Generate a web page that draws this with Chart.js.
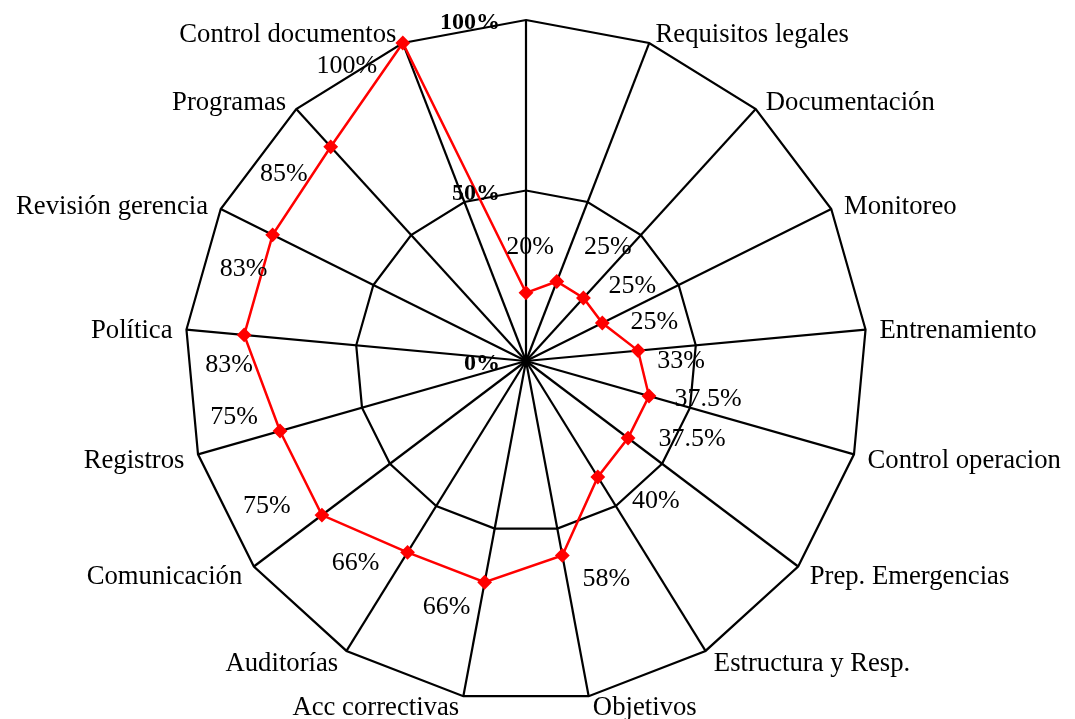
<!DOCTYPE html>
<html>
<head>
<meta charset="utf-8">
<script src="https://cdn.jsdelivr.net/npm/chart.js@4/dist/chart.umd.min.js"></script>
<style>
  html, body { margin: 0; padding: 0; background: #ffffff; }
  canvas { display: block; }
</style>
</head>
<body>
<canvas id="radar" width="1075" height="719"></canvas>
<script>
// Categories, clockwise from the top spoke
const categories = [
  '', 'Requisitos legales', 'Documentación', 'Monitoreo', 'Entrenamiento',
  'Control operacion', 'Prep. Emergencias', 'Estructura y Resp.', 'Objetivos',
  'Acc correctivas', 'Auditorías', 'Comunicación', 'Registros', 'Política',
  'Revisión gerencia', 'Programas', 'Control documentos'
];

// Compliance per category, in percent
const scores = [20, 25, 25, 25, 33, 37.5, 37.5, 40, 58, 66, 66, 75, 75, 83, 83, 85, 100];

// Radial axis tick values
const scaleTicks = [0, 50, 100];

// Offset of each value label from its marker (px)
const scoreLabelOffsets = [
  [4, -48], [51, -36], [49, -14], [52, -3], [43, 9], [59, 1], [64, -1], [58, 22],
  [44, 22], [-38, 23], [-52, 9], [-55, -11], [-46, -16], [-15, 28], [-29, 32],
  [-47, 25], [-56, 21]
];

const SERIF = "'Liberation Serif', 'Times New Roman', Times, serif";

// Draws category names, axis percentages and value labels around the radar
const radarText = {
  id: 'radarText',
  afterDraw(chart) {
    const ctx = chart.ctx;
    const r = chart.scales.r;
    ctx.save();
    ctx.fillStyle = '#000000';
    ctx.textBaseline = 'middle';

    // category names just outside the outer ring
    ctx.font = '26.7px ' + SERIF;
    categories.forEach((name, i) => {
      if (!name) return;
      const p = r.getPointPosition(i, r.drawingArea + 12);
      const dx = p.x - r.xCenter;
      const up = (r.yCenter - p.y) / (r.drawingArea + 12);
      let align = 'center', x = p.x;
      if (dx > 1) { align = 'left'; x += 2; }
      else if (dx < -1) { align = 'right'; x -= 2; }
      ctx.textAlign = align;
      ctx.fillText(name, x, p.y + (up < -0.9 ? 0 : 3));
    });

    // axis percentages to the left of the top spoke
    ctx.font = 'bold 24px ' + SERIF;
    ctx.textAlign = 'right';
    scaleTicks.forEach(v => {
      const y = r.yCenter - r.getDistanceFromCenterForValue(v) + 3;
      ctx.fillText(v + '%', r.xCenter - 26, y);
    });

    // value labels next to each marker
    ctx.font = '26px ' + SERIF;
    ctx.textAlign = 'center';
    const meta = chart.getDatasetMeta(0);
    meta.data.forEach((pt, i) => {
      const off = scoreLabelOffsets[i];
      ctx.fillText(scores[i] + '%', pt.x + off[0], pt.y + off[1] + 2);
    });
    ctx.restore();
  }
};

new Chart(document.getElementById('radar').getContext('2d'), {
  type: 'radar',
  data: {
    labels: categories,
    datasets: [{
      data: scores,
      borderColor: '#ff0000',
      backgroundColor: '#ff0000',
      borderWidth: 2.5,
      fill: false,
      tension: 0,
      pointStyle: 'rectRot',
      pointRadius: 6,
      pointBorderWidth: 2,
      pointBackgroundColor: '#ff0000',
      pointBorderColor: '#ff0000'
    }]
  },
  options: {
    responsive: false,
    animation: false,
    devicePixelRatio: 1,
    events: [],
    layout: { padding: { top: 20, bottom: 17, left: 0, right: 23 } },
    plugins: {
      legend: { display: false },
      tooltip: { enabled: false }
    },
    scales: {
      r: {
        min: 0,
        max: 100,
        ticks: { display: false, stepSize: 50 },
        pointLabels: { display: false },
        grid: { color: '#000000', lineWidth: 2.2 },
        angleLines: { color: '#000000', lineWidth: 2.2 }
      }
    }
  },
  plugins: [radarText]
});
</script>
</body>
</html>
